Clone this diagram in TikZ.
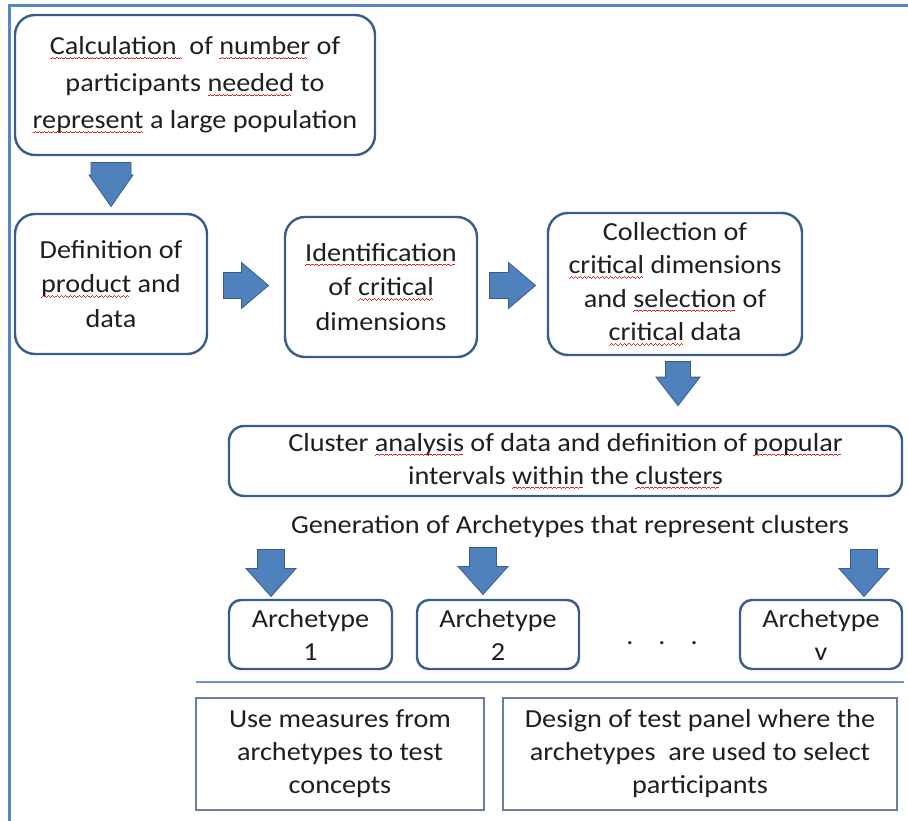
\documentclass[tikz,border=0pt]{standalone}
\usepackage{fontspec}
\setmainfont{Carlito}[FakeStretch=1.085]
\usetikzlibrary{calc}
\definecolor{boxline}{RGB}{56,93,138}
\definecolor{arrowfill}{RGB}{79,129,189}
\definecolor{frameblue}{RGB}{84,135,196}
\definecolor{paleline}{RGB}{104,128,160}
\definecolor{sepline}{RGB}{110,150,205}
\definecolor{txt}{RGB}{30,30,30}
\definecolor{spell}{RGB}{225,40,40}
% red wavy spell-check underline, made of small rules
\newcommand\wavebit{\hbox{\rule[-4.6pt]{1.1pt}{0.9pt}\rule[-3.9pt]{1.1pt}{0.9pt}\rule[-3.2pt]{1.1pt}{0.9pt}\rule[-3.9pt]{1.1pt}{0.9pt}}}
\newcommand\spl[1]{\setbox0\hbox{#1}\rlap{\textcolor{spell}{\hbox to\wd0{\leaders\wavebit\hfill}}}\box0\relax}

\tikzset{
  box/.style={draw=boxline, line width=2.4pt, rounded corners=20pt, align=center,
    inner sep=0pt, text=txt, font=\fontsize{26}{34.5}\selectfont},
  smallbox/.style={box, rounded corners=12pt, font=\fontsize{26}{33}\selectfont},
  plainbox/.style={draw=paleline, line width=1.4pt, align=center, inner sep=0pt,
    text=txt, font=\fontsize{26}{33}\selectfont},
  pics/blkarrow/.style args={#1/#2/#3/#4}{code={
    \filldraw[fill=arrowfill, draw=boxline, line width=0.8pt]
      (-#1,-#2) -- (#1-#4,-#2) -- (#1-#4,-#3) -- (#1,0) -- (#1-#4,#3) -- (#1-#4,#2) -- (-#1,#2) -- cycle;
  }}
}

\begin{document}
\begin{tikzpicture}[x=1pt, y=1pt]
  \useasboundingbox (0,0) rectangle (908,-821);
  % frame
  \draw[frameblue, line width=3pt] (9,-821) -- (9,-6) -- (908,-6);

  % first row
  \node[box, minimum width=360pt, minimum height=140pt, font=\fontsize{26}{37}\selectfont] (calc) at (195,-85)
    {\spl{Calculation\ }\ of \spl{number} of\\ participants \spl{needed} to\\ \spl{represent} a large population};
  \node[box, minimum width=192pt, minimum height=140pt] (defn) at (111,-284)
    {Definition of\\ \spl{product} and\\ data};
  \node[box, minimum width=192pt, minimum height=140pt] (ident) at (381,-287)
    {\spl{Identification}\\ of \spl{critical}\\ dimensions};
  \node[box, minimum width=254pt, minimum height=142pt, font=\fontsize{26}{33.5}\selectfont] (collect) at (675,-284)
    {Collection of\\ \spl{critical} dimensions\\ and \spl{selection} of\\ \spl{critical} data};

  % clusters
  \node[box, rounded corners=15pt, minimum width=673pt, minimum height=70pt, font=\fontsize{26}{33}\selectfont] (cluster) at (565.5,-461)
    {Cluster \spl{analysis} of data and definition of \spl{popular}\\ intervals \spl{within} the \spl{clusters}};
  \node[text=txt, font=\fontsize{26}{33}\selectfont, inner sep=0pt] (gen) at (570,-527)
    {Generation of Archetypes that represent clusters};

  % archetypes
  \node[smallbox, minimum width=163pt, minimum height=69pt] (arch1) at (310.5,-634.5) {Archetype\\ 1};
  \node[smallbox, minimum width=162pt, minimum height=69pt] (arch2) at (498,-634.5) {Archetype\\ 2};
  \node[smallbox, minimum width=162pt, minimum height=69pt] (archv) at (821,-634.5) {Archetype\\ v};
  \node[text=txt, font=\fontsize{26}{33}\selectfont, inner sep=0pt] (dots) at (662,-643) {.\hspace{25pt}.\hspace{25pt}.};

  % block arrows
  \pic[rotate=-90] at ($(defn.north)!0.5!(defn.north |- calc.south)$) {blkarrow=22/20/22/31.5};
  \pic at ($(defn.east)!0.5!(ident.west)$) {blkarrow=22.5/13/23/27};
  \pic at ($(ident.east)!0.5!(collect.west)$) {blkarrow=23/13/23/27};
  \pic[rotate=-90] at ([xshift=3pt]$(collect.south)!0.4!(collect.south |- cluster.north)$) {blkarrow=22/12.5/22/28.5};
  \pic[rotate=-90] at (271,-573) {blkarrow=23.5/13.5/25/28};
  \pic[rotate=-90] at (483,-571) {blkarrow=23.5/13.5/25/28};
  \pic[rotate=-90] at (864,-573) {blkarrow=23.5/13.5/25/28};

  % separator and results
  \draw[sepline, line width=1.4pt] (196,-682) -- (904,-682);
  \node[plainbox, minimum width=288pt, minimum height=112pt] (use) at (340,-754)
    {Use measures from\\ archetypes to test\\ concepts};
  \node[plainbox, minimum width=394pt, minimum height=112pt] (design) at (700,-754)
    {Design of test panel where the\\ archetypes\ \ are used to select\\ participants};
\end{tikzpicture}
\end{document}
